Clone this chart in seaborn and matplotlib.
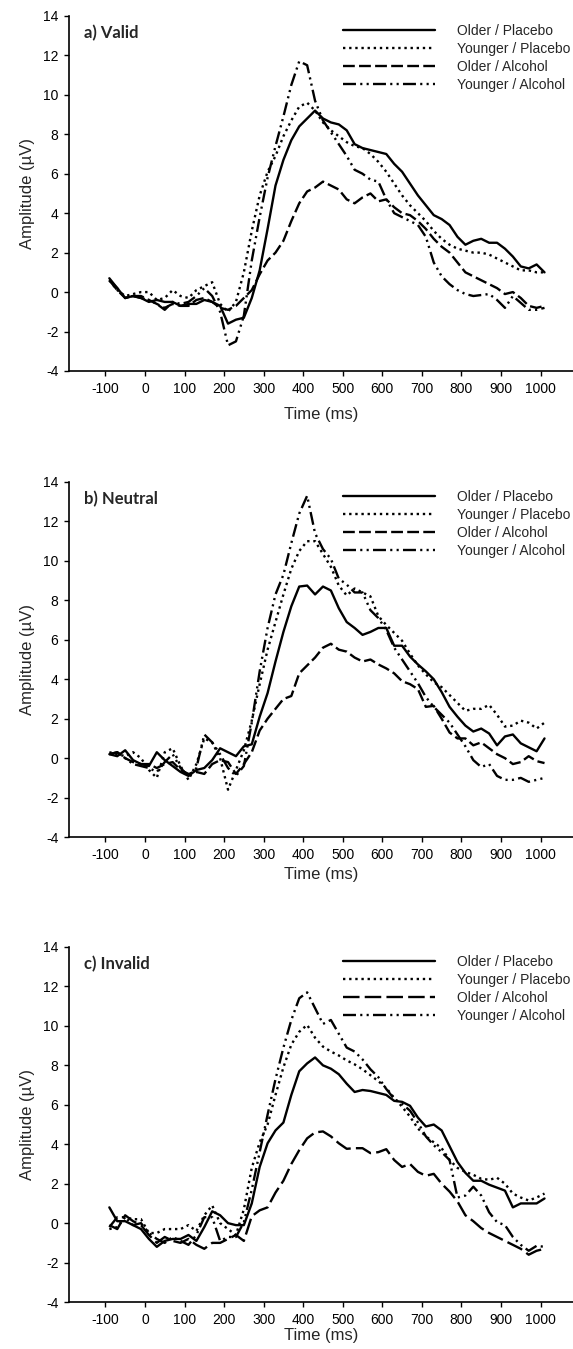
import matplotlib
matplotlib.use("Agg")
import matplotlib.pyplot as plt
import seaborn as sns

# sampling points of the ERP curves (ms)
time_ms = list(range(-90, 1020, 20))

series_names = ["Older / Placebo", "Younger / Placebo", "Older / Alcohol", "Younger / Alcohol"]
panel_titles = ["a) Valid", "b) Neutral", "c) Invalid"]

# a) Valid
valid_older_placebo = [
    0.7, 0.2, -0.3, -0.2, -0.3, -0.5, -0.4, -0.5, -0.5, -0.7,
    -0.6, -0.6, -0.4, -0.5, -0.7, -1.6, -1.4, -1.3, -0.3, 1.1,
    3.2, 5.4, 6.7, 7.7, 8.4, 8.8, 9.2, 8.8, 8.6, 8.5,
    8.2, 7.5, 7.3, 7.2, 7.1, 7.0, 6.5, 6.1, 5.5, 4.9,
    4.4, 3.9, 3.7, 3.4, 2.8, 2.4, 2.6, 2.7, 2.5, 2.5,
    2.2, 1.8, 1.3, 1.2, 1.4, 1.0]
valid_younger_placebo = [
    0.6, 0.1, -0.2, -0.1, 0.0, 0.0, -0.4, -0.3, 0.1, -0.2,
    -0.3, 0.1, 0.3, 0.5, -0.6, -1.0, -0.5, 1.0, 3.1, 4.9,
    6.1, 6.9, 7.9, 8.7, 9.4, 9.6, 9.2, 8.6, 8.2, 7.9,
    7.6, 7.4, 7.3, 7.0, 6.6, 6.1, 5.5, 4.9, 4.4, 4.0,
    3.6, 3.1, 2.7, 2.4, 2.2, 2.1, 2.0, 2.0, 1.9, 1.7,
    1.5, 1.3, 1.1, 1.1, 1.0, 1.0]
valid_older_alcohol = [
    0.6, 0.1, -0.3, -0.2, -0.3, -0.4, -0.6, -0.8, -0.6, -0.7,
    -0.7, -0.4, -0.3, -0.5, -0.8, -0.9, -0.7, -0.3, 0.1, 0.9,
    1.6, 2.0, 2.6, 3.6, 4.5, 5.1, 5.3, 5.6, 5.4, 5.2,
    4.7, 4.5, 4.8, 5.0, 4.6, 4.7, 4.3, 4.0, 3.9, 3.6,
    3.2, 2.7, 2.3, 2.0, 1.5, 1.0, 0.8, 0.6, 0.4, 0.2,
    -0.1, 0.0, -0.3, -0.7, -0.8, -0.7]
valid_younger_alcohol = [
    0.6, 0.2, -0.3, -0.2, -0.2, -0.4, -0.6, -0.9, -0.5, -0.6,
    -0.5, -0.2, 0.2, -0.2, -1.0, -2.7, -2.5, -1.2, 1.6, 3.8,
    5.8, 7.4, 8.9, 10.5, 11.7, 11.5, 9.7, 8.7, 8.1, 7.5,
    6.9, 6.2, 6.0, 5.7, 5.6, 4.7, 4.0, 3.8, 3.6, 3.4,
    2.8, 1.5, 0.8, 0.4, 0.1, -0.1, -0.2, -0.15, -0.1, -0.4,
    -0.8, -0.2, -0.55, -0.9, -0.9, -0.8]

# b) Neutral
neutral_older_placebo = [
    0.2, 0.1, 0.4, -0.1, -0.3, -0.4, 0.3, -0.1, -0.4, -0.7,
    -0.9, -0.6, -0.5, -0.1, 0.5, 0.3, 0.1, 0.6, 0.7, 2.1,
    3.3, 4.9, 6.4, 7.7, 8.7, 8.75, 8.3, 8.7, 8.5, 7.6,
    6.9, 6.6, 6.25, 6.4, 6.6, 6.6, 5.7, 5.7, 5.15, 4.75,
    4.4, 4.0, 3.35, 2.6, 2.1, 1.65, 1.35, 1.5, 1.25, 0.65,
    1.1, 1.2, 0.75, 0.55, 0.35, 1.0]
neutral_younger_placebo = [
    0.3, 0.2, 0.1, 0.3, 0.0, -0.6, -1.0, 0.3, 0.5, -0.4,
    -1.1, -0.3, 1.0, 0.8, 0.0, -1.6, -0.6, 0.4, 1.9, 3.75,
    5.5, 6.9, 8.3, 9.6, 10.5, 11.0, 11.0, 10.35, 9.7, 8.75,
    8.25, 8.6, 8.4, 8.2, 7.2, 6.75, 6.35, 5.95, 5.3, 4.7,
    4.25, 3.85, 3.6, 3.2, 2.8, 2.4, 2.5, 2.5, 2.7, 2.2,
    1.6, 1.65, 1.9, 1.8, 1.5, 1.8]
neutral_older_alcohol = [
    0.2, 0.3, 0.0, -0.2, -0.3, -0.3, -0.5, -0.3, -0.2, -0.6,
    -0.8, -0.7, -0.8, -0.3, -0.1, -0.2, -0.8, -0.3, 0.3, 1.4,
    2.0, 2.5, 3.0, 3.15, 4.3, 4.7, 5.1, 5.6, 5.8, 5.5,
    5.4, 5.1, 4.9, 5.0, 4.75, 4.55, 4.3, 3.9, 3.75, 3.5,
    2.6, 2.65, 2.0, 1.3, 1.0, 1.0, 0.65, 0.8, 0.5, 0.2,
    0.0, -0.3, -0.2, 0.1, -0.15, -0.25]
neutral_younger_alcohol = [
    0.2, 0.3, 0.0, -0.3, -0.4, -0.5, -0.7, -0.2, 0.2, -0.5,
    -0.9, -0.5, 1.2, 0.8, 0.2, -0.5, -0.9, -0.4, 1.8, 4.4,
    6.6, 8.3, 9.3, 10.9, 12.4, 13.3, 11.4, 10.6, 10.1, 9.1,
    8.8, 8.4, 8.4, 7.5, 7.1, 6.5, 5.6, 5.0, 4.4, 3.8,
    3.1, 2.6, 2.2, 1.8, 1.2, 0.6, -0.1, -0.45, -0.3, -0.9,
    -1.1, -1.1, -1.0, -1.2, -1.1, -1.0]

# c) Invalid
invalid_older_placebo = [
    0.8, 0.1, 0.1, -0.1, -0.3, -0.8, -1.2, -0.9, -0.8, -0.8,
    -0.6, -0.9, -0.2, 0.6, 0.4, 0.0, -0.1, -0.1, 1.0, 2.85,
    4.05, 4.7, 5.1, 6.5, 7.7, 8.1, 8.4, 8.0, 7.83, 7.55,
    7.07, 6.65, 6.75, 6.7, 6.6, 6.5, 6.2, 6.15, 5.95, 5.35,
    4.9, 5.0, 4.7, 3.9, 3.1, 2.55, 2.15, 2.15, 1.95, 1.8,
    1.65, 0.8, 1.0, 1.0, 1.0, 1.25]
invalid_younger_placebo = [
    -0.3, -0.2, 0.3, 0.2, 0.2, -0.5, -0.5, -0.3, -0.3, -0.3,
    -0.1, -0.4, 0.4, 0.9, 0.0, -0.3, -0.6, 0.7, 2.8, 4.1,
    5.0, 6.5, 7.9, 9.05, 9.7, 10.05, 9.4, 8.95, 8.7, 8.5,
    8.25, 8.05, 7.8, 7.5, 7.2, 6.85, 6.35, 5.9, 5.4, 4.8,
    4.4, 4.1, 3.8, 3.2, 2.8, 2.6, 2.45, 2.25, 2.2, 2.3,
    2.0, 1.5, 1.3, 1.15, 1.3, 1.5]
invalid_older_alcohol = [
    -0.1, -0.3, 0.4, 0.1, -0.1, -0.6, -1.0, -0.7, -0.9, -1.0,
    -0.8, -1.1, -1.3, -1.0, -1.0, -0.8, -0.6, -0.9, 0.35, 0.65,
    0.8, 1.55, 2.15, 3.0, 3.7, 4.3, 4.6, 4.65, 4.4, 4.05,
    3.77, 3.8, 3.8, 3.55, 3.6, 3.75, 3.2, 2.85, 3.0, 2.6,
    2.4, 2.5, 2.0, 1.6, 1.1, 0.4, 0.1, -0.25, -0.5, -0.7,
    -0.9, -1.1, -1.3, -1.6, -1.4, -1.3]
invalid_younger_alcohol = [
    -0.2, 0.3, 0.3, -0.1, 0.0, -0.5, -0.8, -1.0, -0.7, -0.9,
    -1.1, -0.6, 0.3, 0.3, -0.9, -0.7, -0.7, 0.05, 1.7, 3.6,
    5.5, 7.3, 8.9, 10.3, 11.4, 11.7, 10.9, 10.1, 10.3, 9.6,
    8.9, 8.7, 8.3, 7.8, 7.4, 6.8, 6.3, 6.05, 5.7, 5.1,
    4.4, 3.95, 3.6, 3.2, 1.3, 1.4, 1.85, 1.4, 0.55, 0.05,
    -0.1, -0.7, -1.1, -1.4, -1.15, -1.2]

panels = [
    [valid_older_placebo, valid_younger_placebo, valid_older_alcohol, valid_younger_alcohol],
    [neutral_older_placebo, neutral_younger_placebo, neutral_older_alcohol, neutral_younger_alcohol],
    [invalid_older_placebo, invalid_younger_placebo, invalid_older_alcohol, invalid_younger_alcohol],
]

sns.set_style("ticks")
plt.rcParams["font.family"] = ["Liberation Sans", "DejaVu Sans"]
plt.rcParams["axes.unicode_minus"] = False

# line styles (dash lengths in units of line width)
styles = [
    "-",
    (0, (1, 1.6)),
    (0, (5, 1.8)),
    (0, (5.5, 1.8, 0.9, 1.8, 0.9, 1.8)),
]
dashed_invalid = (0, (7, 2.2))

fig = plt.figure(figsize=(5.73, 13.49), dpi=100)
bottoms = [0.7250, 0.3795, 0.0348]
xlabel_pads = [8, 4, 1]

for i, (title, curves) in enumerate(zip(panel_titles, panels)):
    ax = fig.add_axes([0.1204, bottoms[i], 0.8796, 0.2632])
    for j, (name, vals) in enumerate(zip(series_names, curves)):
        ls = styles[j]
        if i == 2 and j == 2:
            ls = dashed_invalid
        sns.lineplot(x=time_ms, y=vals, ax=ax, color="black", lw=1.7,
                     linestyle=ls, label=name, estimator=None, errorbar=None)

    ax.set_xlim(-192, 1082)
    ax.set_ylim(-4, 14)
    ax.set_xticks(range(-100, 1001, 100))
    ax.set_yticks(range(-4, 15, 2))
    sns.despine(ax=ax)
    for side in ["left", "bottom"]:
        ax.spines[side].set_linewidth(1.2)
        ax.spines[side].set_color("black")
    ax.tick_params(direction="out", length=3.6, width=1.0, labelsize=10, pad=4, colors="black")

    ax.set_xlabel("Time (ms)", fontsize=12, labelpad=xlabel_pads[i])
    ax.set_ylabel("Amplitude (µV)", fontsize=12, labelpad=6)

    ax.text(0.03, 0.952, title, transform=ax.transAxes, fontsize=12,
            fontweight="bold", family=["Lato", "DejaVu Sans"], va="center", ha="left")

    ax.legend(loc="upper left", bbox_to_anchor=(0.544, 0.978), frameon=False,
              fontsize=10, handlelength=6.6, handletextpad=1.6, labelspacing=0.3,
              borderaxespad=0, borderpad=0)

fig.savefig("out.png", dpi=100)
